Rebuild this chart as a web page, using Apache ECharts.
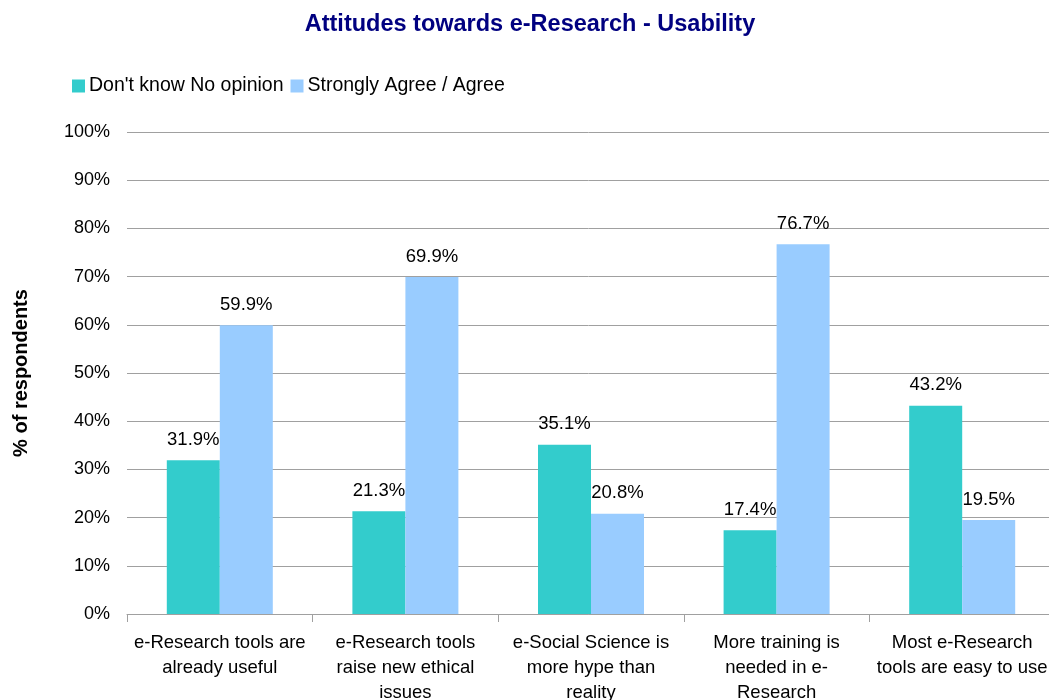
<!DOCTYPE html>
<html>
<head>
<meta charset="utf-8">
<script src="https://cdn.jsdelivr.net/npm/echarts@6/dist/echarts.min.js"></script>
<style>html,body{margin:0;padding:0;background:#fff}#c{width:1049px;height:700px}</style>
</head>
<body>
<div id="c"></div>
<script>
const categories = [
  "e-Research tools are\nalready useful",
  "e-Research tools\nraise new ethical\nissues",
  "e-Social Science is\nmore hype than\nreality",
  "More training is\nneeded in e-\nResearch",
  "Most e-Research\ntools are easy to use"
];
const seriesNames = ["Don't know No opinion", "Strongly Agree / Agree"];
const dontKnow = [31.9, 21.3, 35.1, 17.4, 43.2];
const agree = [59.9, 69.9, 20.8, 76.7, 19.5];
const colors = ["#33CCCC", "#99CCFF"];

const chart = echarts.init(document.getElementById('c'), null, {renderer: 'canvas'});
const font = 'Liberation Sans, Arial, sans-serif';
const labelCfg = {
  show: true, position: 'top', distance: 11,
  fontFamily: font, fontSize: 18.5, color: '#000',
  formatter: p => p.value.toFixed(1) + '%'
};
chart.setOption({
  animation: false,
  title: {
    text: 'Attitudes towards e-Research - Usability',
    left: 525, textAlign: 'center', top: 8,
    textStyle: {fontFamily: font, fontSize: 23.5, fontWeight: 'bold', color: '#000080'}
  },
  legend: {
    left: 67, top: 71, itemWidth: 13, itemHeight: 13, itemGap: 7,
    icon: 'rect',
    textStyle: {fontFamily: font, fontSize: 19.5, color: '#000', padding: [0,0,0,-1]},
    data: seriesNames
  },
  grid: {left: 127, right: -6, top: 132, bottom: 86, containLabel: false, outerBoundsMode: 'none'},
  xAxis: {
    type: 'category', data: categories,
    axisLine: {lineStyle: {color: '#a0a0a0', width: 1}},
    axisTick: {show: true, length: 8, lineStyle: {color: '#a0a0a0'}},
    axisLabel: {fontFamily: font, fontSize: 18.5, color: '#000', margin: 16, lineHeight: 25, interval: 0, align: 'center'}
  },
  yAxis: {
    type: 'value', min: 0, max: 100, interval: 10,
    name: '% of respondents', nameLocation: 'middle', nameGap: 96, nameRotate: 90,
    nameTextStyle: {fontFamily: font, fontSize: 20, fontWeight: 'bold', color: '#000'},
    axisLine: {show: false}, axisTick: {show: false},
    axisLabel: {fontFamily: font, fontSize: 18, color: '#000', margin: 17, formatter: v => v + '%'},
    splitLine: {lineStyle: {color: '#a0a0a0', width: 1}}
  },
  series: [
    {name: seriesNames[0], type: 'bar', data: dontKnow, barWidth: 53, barGap: '0%',
     itemStyle: {color: colors[0]}, label: labelCfg},
    {name: seriesNames[1], type: 'bar', data: agree, barWidth: 53, barGap: '0%',
     itemStyle: {color: colors[1]}, label: labelCfg}
  ]
});
</script>
</body>
</html>
